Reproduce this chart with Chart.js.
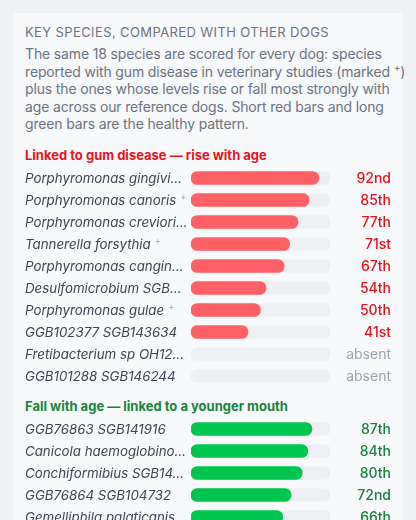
<!DOCTYPE html>
<html lang="en">
<head>
<meta charset="UTF-8">
<title>Key species</title>
<script src="https://cdn.jsdelivr.net/npm/chart.js"></script>
<style>
  html, body { margin: 0; padding: 0; }
  body { width: 416px; height: 520px; overflow: hidden; background: #eff0f4; font-family: Inter, "Noto Sans", sans-serif; position: relative; }
  .card { position: absolute; left: 13px; top: 13px; width: 390px; height: 540px; background: #f8f9fb; }
  .title { position: absolute; left: 25px; top: 24px; font-size: 13px; letter-spacing: 0.03em; color: #6b7280; }
  .intro { position: absolute; left: 25px; top: 45px; white-space: nowrap; font-size: 14px; letter-spacing: -0.15px; line-height: 17.6px; color: #6b7280; }
  .intro sup { font-size: 10px; line-height: 0; }
  .head { position: absolute; left: 25px; font-size: 13px; font-weight: 700; }
  .wrap { position: absolute; left: 0; width: 416px; }
</style>
</head>
<body>
<div class="card"></div>
<div class="title">KEY SPECIES, COMPARED WITH OTHER DOGS</div>
<div class="intro">The same 18 species are scored for every dog: species<br>reported with gum disease in veterinary studies (marked <sup>+</sup>)<br>plus the ones whose levels rise or fall most strongly with<br>age across our reference dogs. Short red bars and long<br>green bars are the healthy pattern.</div>

<div class="head" style="top:147px;color:#e5141f">Linked to gum disease — rise with age</div>
<div class="wrap" style="top:167px;height:220px"><canvas id="riseChart"></canvas></div>

<div class="head" style="top:398px;color:#16843c">Fall with age — linked to a younger mouth</div>
<div class="wrap" style="top:418px;height:110px"><canvas id="fallChart"></canvas></div>

<script>
// rise with age (null = absent)
const riseNames = ['Porphyromonas gingivi…', 'Porphyromonas canoris', 'Porphyromonas creviori…', 'Tannerella forsythia',
  'Porphyromonas cangin…', 'Desulfomicrobium SGB…', 'Porphyromonas gulae', 'GGB102377 SGB143634',
  'Fretibacterium sp OH12…', 'GGB101288 SGB146244'];
const riseMarked = [false, true, false, true, false, false, true, false, false, false];
const riseValues = [92, 85, 77, 71, 67, 54, 50, 41, null, null];
const riseTicks = ['92nd', '85th', '77th', '71st', '67th', '54th', '50th', '41st', 'absent', 'absent'];

// fall with age
const fallNames = ['GGB76863 SGB141916', 'Canicola haemoglobino…', 'Conchiformibius SGB14…', 'GGB76864 SGB104732', 'Gemelliphila palaticanis'];
const fallMarked = [false, false, false, false, false];
const fallValues = [87, 84, 80, 72, 66];
const fallTicks = ['87th', '84th', '80th', '72nd', '66th'];

const sidePlugin = {
  id: 'side',
  afterDatasetsDraw(chart, args, opts) {
    const ctx = chart.ctx;
    const y = chart.scales.y;
    ctx.save();
    ctx.textBaseline = 'middle';
    opts.names.forEach((name, i) => {
      const py = y.getPixelForValue(i);
      ctx.font = 'italic 13.3px Inter, sans-serif';
      ctx.fillStyle = '#3d4452';
      ctx.textAlign = 'left';
      ctx.fillText(name, 25, py + 1);
      if (opts.marked[i]) {
        const w = ctx.measureText(name).width;
        ctx.font = '9px Inter, sans-serif';
        ctx.fillStyle = '#a0a6b1';
        ctx.fillText('+', 25 + w + 4, py - 3);
      }
      const absent = opts.values[i] === null;
      ctx.font = (absent ? '400' : '500') + ' 14px Inter, sans-serif';
      ctx.fillStyle = absent ? '#9ca1ab' : opts.color;
      ctx.textAlign = 'right';
      ctx.fillText(opts.ticks[i], 391, py + 1);
    });
    ctx.restore();
  }
};

function makeChart(id, names, marked, values, ticks, barColor, textColor) {
  return new Chart(document.getElementById(id), {
    type: 'bar',
    data: {
      labels: names,
      datasets: [
        { data: values, backgroundColor: barColor, barThickness: 13, borderRadius: 7, borderSkipped: false, grouped: false, order: 0 },
        { data: names.map(() => 100), backgroundColor: '#eeeff2', barThickness: 13, borderRadius: 7, borderSkipped: false, grouped: false, order: 1 }
      ]
    },
    options: {
      indexAxis: 'y',
      responsive: true,
      maintainAspectRatio: false,
      animation: false,
      layout: { padding: { left: 191, right: 86, top: 0, bottom: 0 } },
      scales: {
        x: { display: false, min: 0, max: 100 },
        y: { display: false }
      },
      plugins: {
        legend: { display: false },
        tooltip: { enabled: false },
        side: { names: names, marked: marked, values: values, ticks: ticks, color: textColor }
      }
    },
    plugins: [sidePlugin]
  });
}

makeChart('riseChart', riseNames, riseMarked, riseValues, riseTicks, '#ff6167', '#e0131c');
makeChart('fallChart', fallNames, fallMarked, fallValues, fallTicks, '#00c64f', '#17803c');
</script>
</body>
</html>
